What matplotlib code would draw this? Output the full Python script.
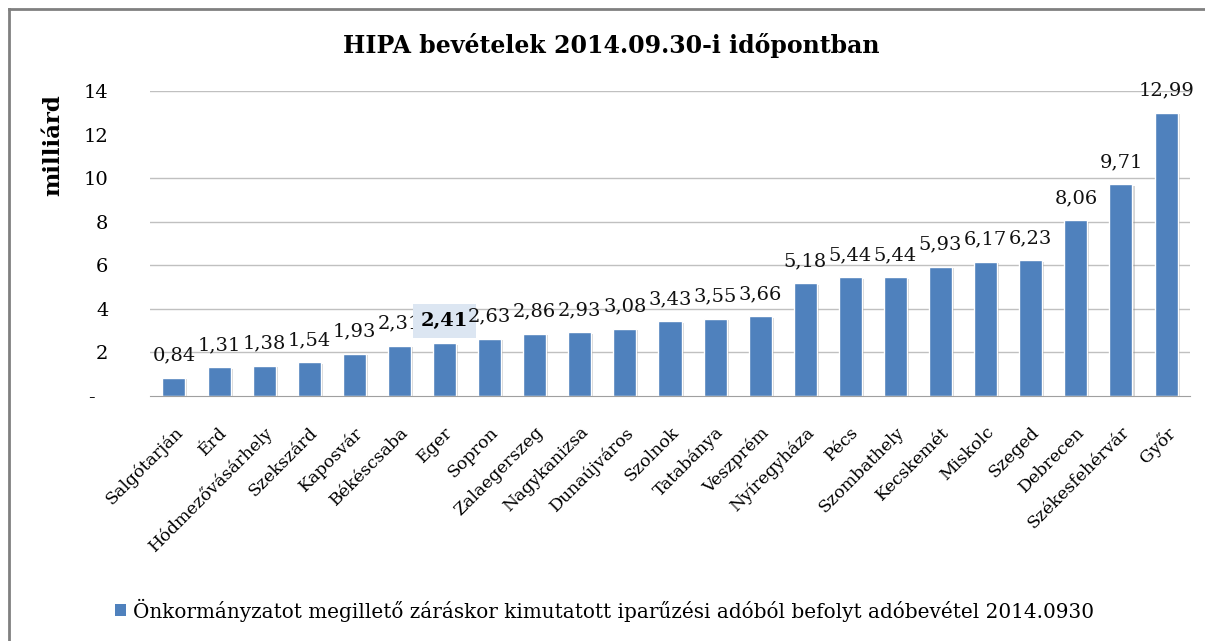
# -*- coding: utf-8 -*-
"""HIPA bevételek 2014.09.30-i időpontban - oszlopdiagram"""
import matplotlib
matplotlib.use('Agg')
import matplotlib.pyplot as plt
import matplotlib.patheffects as pe
from matplotlib.patches import Rectangle
from matplotlib.lines import Line2D

plt.rcParams['font.family'] = ['DejaVu Serif']

TITLE = 'HIPA bevételek 2014.09.30-i időpontban'
Y_LABEL = 'milliárd'
LEGEND_LABEL = 'Önkormányzatot megillető záráskor kimutatott iparűzési adóból befolyt adóbevétel 2014.0930'

cities = ['Salgótarján', 'Érd', 'Hódmezővásárhely', 'Szekszárd', 'Kaposvár',
          'Békéscsaba', 'Eger', 'Sopron', 'Zalaegerszeg', 'Nagykanizsa',
          'Dunaújváros', 'Szolnok', 'Tatabánya', 'Veszprém', 'Nyíregyháza',
          'Pécs', 'Szombathely', 'Kecskemét', 'Miskolc', 'Szeged', 'Debrecen',
          'Székesfehérvár', 'Győr']
values = [0.84, 1.31, 1.38, 1.54, 1.93, 2.31, 2.41, 2.63, 2.86, 2.93, 3.08,
          3.43, 3.55, 3.66, 5.18, 5.44, 5.44, 5.93, 6.17, 6.23, 8.06, 9.71, 12.99]
yticks = [0, 2, 4, 6, 8, 10, 12, 14]
ytick_labels = ['-  ', '2', '4', '6', '8', '10', '12', '14']
grid_levels = [2, 4, 6, 8, 10, 14]
highlight_city = 'Eger'

BAR_COLOR = '#4F81BD'
W, H = 1205, 641

fig = plt.figure(figsize=(W / 100, H / 100), dpi=100)
ax = fig.add_axes([150 / W, 1 - 396 / H, 1040 / W, 305 / H])

x = list(range(len(cities)))
bars = ax.bar(x, values, width=0.51, color=BAR_COLOR, edgecolor='white',
              linewidth=1.0, zorder=3)
for b in bars:
    b.set_path_effects([pe.SimplePatchShadow(offset=(1.5, -1.0), shadow_rgbFace='#888888', alpha=0.35),
                        pe.Normal()])

for xi, v, c in zip(x, values, cities):
    txt = f'{v:.2f}'.replace('.', ',')
    if c == highlight_city:
        ax.annotate(txt, (xi, v), textcoords='offset points', xytext=(0, 16),
                    ha='center', va='center', fontsize=14, fontweight='bold',
                    bbox=dict(boxstyle='square,pad=0.4', facecolor='#DCE6F2', edgecolor='none'))
    else:
        ax.annotate(txt, (xi, v), textcoords='offset points', xytext=(0, 16),
                    ha='center', va='center', fontsize=14, color='#111111')

for g in grid_levels:
    ax.axhline(g, color='#C0C0C0', linewidth=1.0, zorder=0)

ax.set_ylim(0, 14)
ax.set_xlim(-0.53, len(cities) - 0.47)
ax.set_yticks(yticks)
ax.set_yticklabels(ytick_labels, fontsize=14)
ax.set_xticks(x)
ax.set_xticklabels(cities, fontsize=12.5, rotation=45, ha='right', rotation_mode='anchor')
ax.tick_params(axis='both', length=0)
ax.tick_params(axis='y', pad=30)
ax.tick_params(axis='x', pad=20)
for s in ['top', 'right', 'left']:
    ax.spines[s].set_visible(False)
ax.spines['bottom'].set_color('#A0A0A0')
ax.spines['bottom'].set_zorder(4)

fig.text(611 / W, 1 - 45 / H, TITLE, ha='center', va='center', fontsize=17, fontweight='bold')
fig.text(53 / W, 1 - 145 / H, Y_LABEL, ha='center', va='center', rotation=90,
         fontsize=16.5, fontweight='bold')

# jelmagyarázat alul
fig.patches.append(Rectangle((115 / W, 1 - 616 / H), 11 / W, 12 / H,
                             transform=fig.transFigure, facecolor=BAR_COLOR, edgecolor='none'))
fig.text(133 / W, 1 - 610 / H, LEGEND_LABEL, ha='left', va='center', fontsize=14.4)

# keret: csak a bal és a felső oldala látszik
fig.lines.append(Line2D([9 / W, 9 / W], [0, 1 - 9 / H], transform=fig.transFigure,
                        color='#808080', linewidth=2))
fig.lines.append(Line2D([9 / W, 1], [1 - 9 / H, 1 - 9 / H], transform=fig.transFigure,
                        color='#808080', linewidth=2))

fig.savefig('out.png', dpi=100, facecolor='white')
